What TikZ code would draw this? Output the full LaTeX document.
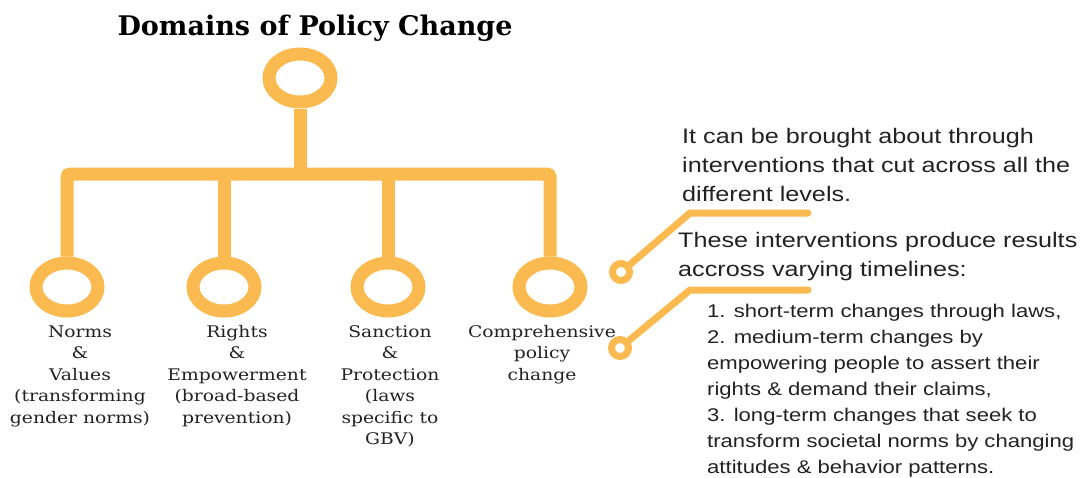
\documentclass[tikz,border=0pt]{standalone}
\usepackage{fontspec}
\setmainfont[FakeStretch=1.17]{DejaVu Serif}
\newfontfamily\titlefont{DejaVu Serif}
\newfontfamily\sansfont[FakeStretch=1.2]{Liberation Sans}
\usetikzlibrary{shapes.geometric}
\definecolor{gold}{RGB}{251,186,80}
\definecolor{ink}{RGB}{34,34,34}

\begin{document}
\begin{tikzpicture}[x=1pt,y=-1pt,
    ring/.style={ellipse,draw=gold,line width=13pt,minimum width=62pt,minimum height=48pt,inner sep=0pt},
    dot/.style={circle,draw=gold,line width=7pt,minimum size=17pt,inner sep=0pt},
    stem/.style={draw=gold,line width=13pt,rounded corners=3pt},
    lead/.style={draw=gold,line width=7pt,line cap=round},
    lbl/.style={anchor=base,align=center,text=ink,inner sep=0pt,font=\fontsize{16}{21.5}\selectfont},
    txt/.style={anchor=base west,align=left,text=ink,inner sep=0pt}]
            \useasboundingbox (0,0) rectangle (1086,477);
            \node[anchor=base,inner sep=0pt,font=\titlefont\fontsize{27}{30}\bfseries\selectfont](title) at (315,35){Domains of Policy Change};
            \node[ring](top) at (300,78){};
            \node[ring](norms) at (67,287){};
            \node[ring](rights) at (224,287){};
            \node[ring](sanct) at (388,287){};
            \node[ring](comp) at (550,287){};
            \coordinate (bar) at (300,174);
            \draw[stem](top.south) -- (bar);
            \draw[stem](norms.north) |- (bar) -| (comp.north);
            \draw[stem](rights.north) -- (rights.north |- bar);
            \draw[stem](sanct.north) -- (sanct.north |- bar);
            % base = last line, so y is the last baseline
            \node[lbl](normstxt) at (80,423){Norms\\\&\\Values\\(transforming\\gender norms)};
            \node[lbl](rightstxt) at (237,423){Rights\\\&\\Empowerment\\(broad-based\\prevention)};
            \node[lbl](sancttxt) at (390,444.5){Sanction\\\&\\Protection\\(laws\\specific to\\GBV)};
            \node[lbl](comptxt) at (542,380){Comprehensive\\policy\\change};
            \node[dot](s1) at (621,272){};
            \node[dot](s2) at (620,348){};
            \coordinate (k1) at (690,213);
            \coordinate (e1) at (808,213);
            \coordinate (k2) at (690,290);
            \coordinate (e2) at (808,290);
            \draw[lead](s1.40) -- (k1) -- (e1);
            \draw[lead](s2.40) -- (k2) -- (e2);
            \node[txt,font=\sansfont\fontsize{21}{29}\selectfont](about) at (682,201){It can be brought about through\\interventions that cut across all the\\different levels.};
            \node[txt,font=\sansfont\fontsize{21}{29}\selectfont](results) at (678,276){These interventions produce results\\accross varying timelines:};
            \node[txt,font=\sansfont\fontsize{18.4}{26}\selectfont](terms) at (707,473){1. short-term changes through laws,\\2. medium-term changes by\\empowering people to assert their\\rights \& demand their claims,\\3. long-term changes that seek to\\transform societal norms by changing\\attitudes \& behavior patterns.};
        \end{tikzpicture}
\end{document}
